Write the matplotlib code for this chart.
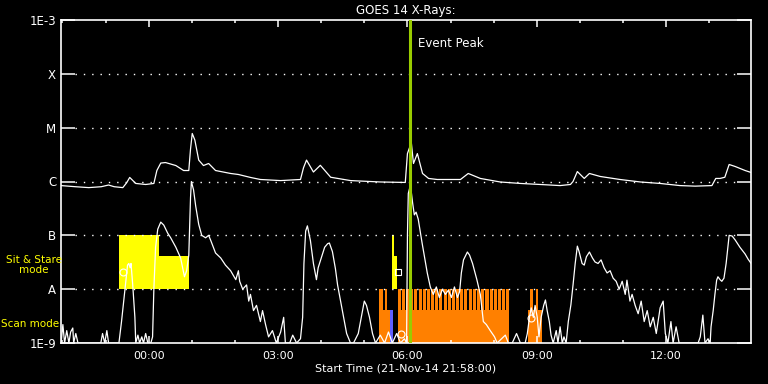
import matplotlib
matplotlib.use("Agg")
import matplotlib.pyplot as plt

# hours from 00:00 22-Nov-14, flux in W/m^2
long_pts = [(-2.03, 0.84e-6), (-1.7, 0.80e-6), (-1.39, 0.77e-6), (-1.1, 0.80e-6), (-0.93, 0.86e-6),
            (-0.8, 0.80e-6), (-0.60, 0.77e-6), (-0.51, 0.95e-6), (-0.44, 1.19e-6), (-0.30, 0.92e-6),
            (-0.07, 0.88e-6), (0.12, 0.92e-6), (0.19, 1.6e-6), (0.28, 2.2e-6), (0.39, 2.25e-6),
            (0.63, 1.98e-6), (0.81, 1.6e-6), (0.93, 1.6e-6), (0.97, 4.0e-6), (1.01, 7.8e-6),
            (1.07, 5.9e-6), (1.16, 2.5e-6), (1.27, 1.98e-6), (1.39, 2.16e-6), (1.55, 1.6e-6),
            (1.90, 1.41e-6), (2.08, 1.35e-6), (2.36, 1.19e-6), (2.59, 1.09e-6), (3.06, 1.04e-6),
            (3.52, 1.09e-6), (3.59, 1.8e-6), (3.66, 2.5e-6), (3.82, 1.5e-6), (3.98, 2.0e-6),
            (4.22, 1.2e-6), (4.68, 1.04e-6), (5.37, 0.98e-6), (5.95, 0.96e-6), (6.00, 3.3e-6),
            (6.09, 5.3e-6), (6.14, 2.16e-6), (6.23, 3.3e-6), (6.35, 1.41e-6), (6.49, 1.14e-6),
            (6.69, 1.09e-6), (7.23, 1.09e-6), (7.41, 1.41e-6), (7.69, 1.14e-6), (8.15, 0.98e-6),
            (8.62, 0.92e-6), (9.08, 0.88e-6), (9.54, 0.84e-6), (9.78, 0.88e-6), (9.84, 1.0e-6),
            (9.94, 1.53e-6), (10.10, 1.14e-6), (10.22, 1.41e-6), (10.47, 1.24e-6), (10.93, 1.09e-6),
            (11.40, 0.98e-6), (11.86, 0.92e-6), (12.32, 0.84e-6), (12.67, 0.82e-6), (13.06, 0.84e-6),
            (13.15, 1.14e-6), (13.25, 1.14e-6), (13.36, 1.2e-6), (13.46, 2.07e-6), (13.60, 1.9e-6),
            (13.83, 1.6e-6), (13.97, 1.47e-6)]

short_pts = [(-2.03, 1.0e-9), (-1.99, 2.2e-9), (-1.95, 1.0e-9), (-1.90, 1.7e-9), (-1.85, 1.0e-9),
             (-1.81, 1.6e-9), (-1.76, 1.9e-9), (-1.74, 1.0e-9), (-1.69, 1.5e-9), (-1.64, 1.0e-9),
             (-1.34, 1.0e-9), (-1.11, 1.0e-9), (-1.07, 1.5e-9), (-1.02, 1.0e-9), (-0.97, 1.7e-9),
             (-0.93, 1.0e-9), (-0.69, 1.0e-9), (-0.63, 2.5e-9), (-0.58, 6e-9), (-0.53, 1.5e-8),
             (-0.49, 2.8e-8), (-0.46, 3e-8), (-0.43, 2.5e-8), (-0.41, 3e-8), (-0.37, 1.2e-8),
             (-0.32, 3e-9), (-0.30, 1.0e-9), (-0.25, 1.4e-9), (-0.21, 1.0e-9), (-0.16, 1.3e-9),
             (-0.12, 1.0e-9), (-0.07, 1.5e-9), (-0.02, 1.0e-9), (0.05, 1.0e-9), (0.09, 1.3e-9),
             (0.12, 1e-8), (0.16, 6e-8), (0.21, 1.3e-7), (0.28, 1.76e-7), (0.35, 1.55e-7),
             (0.44, 1.1e-7), (0.51, 9e-8), (0.63, 6e-8), (0.74, 3.8e-8), (0.83, 1.7e-8),
             (0.88, 2.2e-8), (0.93, 4.3e-8), (0.95, 1.5e-7), (0.97, 5e-7), (0.99, 1.0e-6),
             (1.04, 7e-7), (1.09, 3.5e-7), (1.16, 1.6e-7), (1.23, 1.0e-7), (1.32, 9e-8),
             (1.39, 1.0e-7), (1.44, 8e-8), (1.55, 4.7e-8), (1.67, 3.8e-8), (1.78, 2.8e-8),
             (1.90, 2.2e-8), (2.02, 1.5e-8), (2.08, 2.2e-8), (2.11, 1.4e-8), (2.18, 1.0e-8),
             (2.27, 1.2e-8), (2.32, 6e-9), (2.36, 8e-9), (2.43, 4e-9), (2.50, 5e-9),
             (2.59, 2.5e-9), (2.64, 4e-9), (2.71, 2.2e-9), (2.78, 1.3e-9), (2.87, 1.7e-9),
             (2.96, 1.0e-9), (3.06, 1.6e-9), (3.13, 3e-9), (3.17, 1.0e-9), (3.27, 1.0e-9),
             (3.34, 1.4e-9), (3.43, 1.0e-9), (3.52, 1.2e-9), (3.57, 3e-9), (3.60, 3e-8),
             (3.64, 1.2e-7), (3.68, 1.5e-7), (3.75, 8e-8), (3.82, 3e-8), (3.89, 1.5e-8),
             (3.93, 2.5e-8), (4.01, 4e-8), (4.08, 6e-8), (4.15, 7e-8), (4.19, 7.2e-8),
             (4.26, 5e-8), (4.33, 2.4e-8), (4.38, 1.2e-8), (4.45, 6e-9), (4.52, 3e-9),
             (4.59, 1.5e-9), (4.68, 1.0e-9), (4.75, 1.0e-9), (4.86, 1.5e-9), (4.93, 3e-9),
             (5.00, 6e-9), (5.05, 5e-9), (5.12, 3e-9), (5.19, 1.5e-9), (5.26, 1.0e-9),
             (5.37, 1.4e-9), (5.47, 1.0e-9), (5.56, 1.6e-9), (5.65, 1.0e-9), (5.75, 1.5e-9),
             (5.84, 1.0e-9), (5.93, 1.2e-9), (5.98, 1.0e-9), (6.00, 1e-7), (6.02, 6e-7),
             (6.07, 8.6e-7), (6.12, 4e-7), (6.16, 2.4e-7), (6.20, 2.7e-7), (6.25, 2.0e-7),
             (6.34, 7.2e-8), (6.46, 2.0e-8), (6.53, 1.1e-8), (6.60, 8e-9), (6.67, 1.1e-8),
             (6.74, 7e-9), (6.81, 1.0e-8), (6.88, 8e-9), (6.95, 9.6e-9), (7.02, 7e-9),
             (7.09, 1.1e-8), (7.16, 7e-9), (7.21, 9e-9), (7.25, 2e-8), (7.30, 3.5e-8),
             (7.39, 4.9e-8), (7.44, 4.3e-8), (7.51, 3.0e-8), (7.61, 1.5e-8), (7.69, 8e-9),
             (7.76, 2.5e-9), (7.83, 2.2e-9), (7.92, 1.7e-9), (8.02, 1.3e-9), (8.08, 1.0e-9),
             (8.27, 1.4e-9), (8.34, 1.0e-9), (8.43, 1.0e-9), (8.53, 1.5e-9), (8.62, 1.0e-9),
             (8.73, 1.0e-9), (8.78, 1.5e-9), (8.83, 3e-9), (8.87, 4.5e-9), (8.92, 3e-9),
             (8.96, 5e-9), (9.01, 3e-9), (9.05, 1.3e-9), (9.10, 3e-9), (9.16, 5e-9),
             (9.20, 6.3e-9), (9.24, 4e-9), (9.29, 2.5e-9), (9.33, 1.4e-9), (9.38, 1.0e-9),
             (9.45, 1.7e-9), (9.49, 1.0e-9), (9.54, 2e-9), (9.59, 1.0e-9), (9.63, 1.3e-9),
             (9.68, 1.0e-9), (9.73, 2.5e-9), (9.79, 5.1e-9), (9.84, 1.2e-8), (9.89, 3e-8),
             (9.94, 6.3e-8), (9.98, 5e-8), (10.05, 3e-8), (10.10, 2.8e-8), (10.15, 4e-8),
             (10.22, 4.9e-8), (10.29, 3.8e-8), (10.35, 3.2e-8), (10.42, 3e-8), (10.49, 3.5e-8),
             (10.56, 2.5e-8), (10.63, 2.0e-8), (10.70, 2.2e-8), (10.77, 1.6e-8), (10.84, 1.4e-8),
             (10.91, 1.0e-8), (10.98, 1.4e-8), (11.05, 8e-9), (11.09, 1.47e-8), (11.16, 6e-9),
             (11.21, 8e-9), (11.28, 5e-9), (11.35, 3.5e-9), (11.42, 6e-9), (11.49, 2.5e-9),
             (11.56, 4e-9), (11.63, 2e-9), (11.70, 3e-9), (11.77, 1.5e-9), (11.86, 4.5e-9),
             (11.93, 6e-9), (11.98, 1.5e-9), (12.04, 1.0e-9), (12.11, 2.5e-9), (12.16, 1.0e-9),
             (12.23, 2e-9), (12.30, 1.0e-9), (12.37, 1.0e-9), (12.55, 1.0e-9), (12.74, 1.0e-9),
             (12.79, 1.3e-9), (12.85, 3.3e-9), (12.90, 1.0e-9), (12.97, 1.2e-9), (13.02, 1.0e-9),
             (13.04, 2e-9), (13.09, 4e-9), (13.13, 8e-9), (13.17, 1.47e-8), (13.20, 1.7e-8),
             (13.25, 1.5e-8), (13.29, 1.4e-8), (13.34, 1.6e-8), (13.39, 3e-8), (13.43, 6e-8),
             (13.46, 1.0e-7), (13.53, 9.7e-8), (13.60, 8.2e-8), (13.71, 6e-8), (13.83, 4.5e-8),
             (13.90, 3.6e-8), (13.97, 3.0e-8)]

# instrument mode bands: (start_h, end_h)
sit_full = [(-0.69, 0.23), (5.645, 5.70)]
sit_part = [(0.23, 0.93), (5.70, 5.75)]
scan_part = [(5.33, 5.61), (5.77, 8.35), (8.79, 9.12)]
scan_full = [(5.33, 5.44), (5.47, 5.53),
             (5.77, 5.84), (5.87, 5.94), (5.96, 6.03), (6.06, 6.13), (6.16, 6.23), (6.26, 6.33),
             (6.35, 6.42), (6.45, 6.52), (6.55, 6.62), (6.64, 6.71), (6.74, 6.81), (6.84, 6.91),
             (6.94, 7.01), (7.03, 7.10), (7.13, 7.20), (7.23, 7.30), (7.32, 7.39), (7.42, 7.49),
             (7.52, 7.59), (7.61, 7.68), (7.71, 7.78), (7.81, 7.88), (7.91, 7.98), (8.00, 8.07),
             (8.10, 8.17), (8.20, 8.27), (8.29, 8.35),
             (8.85, 8.91), (8.97, 9.03)]
blue_bar = [(5.606, 5.67)]
glyphs = [(-0.59, 2.1e-8, 'o'), (5.78, 2.08e-8, 's'), (5.84, 1.5e-9, 'o'), (8.87, 2.9e-9, 'o')]

peak_time = 6.05
level_vals = [1e-9, 1e-8, 1e-7, 1e-6, 1e-5, 1e-4, 1e-3]
level_labels = ['1E-9', 'A', 'B', 'C', 'M', 'X', '1E-3']
hour_ticks = [0, 3, 6, 9, 12]
hour_labels = ['00:00', '03:00', '06:00', '09:00', '12:00']
t_start, t_end = -2.0333, 13.9667

plt.rcParams['font.family'] = 'DejaVu Sans'
plt.rcParams['font.size'] = 8

fig = plt.figure(figsize=(7.68, 3.84), dpi=100, facecolor='black')
ax = fig.add_axes([61 / 768, 41 / 384, 690 / 768, 323 / 384], facecolor='black')


def bands(spans, lo, hi, color):
    for a, b in spans:
        ax.bar(a, hi - lo, bottom=lo, width=b - a, align='edge', color=color, linewidth=0, zorder=1)


bands(sit_full, 1e-8, 1e-7, '#ffff00')
bands(sit_part, 1e-8, 4.1e-8, '#ffff00')
bands(scan_part, 1e-9, 4.1e-9, '#ff8000')
bands(scan_full, 1e-9, 1e-8, '#ff8000')
bands(blue_bar, 1e-9, 4.1e-9, '#6060ff')

lt, lf = zip(*long_pts)
st, sf = zip(*short_pts)
ax.plot(lt, lf, color='white', lw=0.9, zorder=3)
ax.plot(st, sf, color='white', lw=0.9, zorder=3)

for gx, gy, m in glyphs:
    ax.plot([gx], [gy], marker=m, ms=5, mfc='none', mec='white', mew=0.8, zorder=4)

# dotted class levels
for lv in level_vals[1:-1]:
    ax.axhline(lv, xmin=14 / 690, xmax=1 - 14 / 690, color='white', lw=1.0,
               linestyle=(0, (1, 5)), zorder=2)

ax.axvline(peak_time, color='#99cc00', lw=2.2, zorder=5)
ax.text(peak_time + 0.2, 3.6e-4, 'Event Peak', color='white', fontsize=8.5, va='center')

ax.set_yscale('log')
ax.set_ylim(1e-9, 1e-3)
ax.set_xlim(t_start, t_end)
ax.set_yticks(level_vals)
ax.set_yticklabels(level_labels)
ax.yaxis.set_minor_locator(matplotlib.ticker.NullLocator())
ax.set_xticks(hour_ticks)
ax.set_xticklabels(hour_labels)
ax.set_xticks(range(-2, 14), minor=True)

ax.tick_params(axis='y', which='major', direction='in', length=10, width=1.1, colors='white',
               left=True, right=True, labelsize=8.5, pad=3.5)
ax.tick_params(axis='x', which='major', direction='in', length=5, width=1.1, colors='white',
               top=True, bottom=True, labelsize=8, pad=5.5)
ax.tick_params(axis='x', which='minor', direction='in', length=2.5, width=1.1, colors='white',
               top=True, bottom=True)
for sp in ax.spines.values():
    sp.set_color('white')
    sp.set_linewidth(1.2)

ax.set_title('GOES 14 X-Rays:', color='white', fontsize=8.5, pad=4)
ax.set_xlabel('Start Time (21-Nov-14 21:58:00)', color='white', fontsize=8, labelpad=2)

fig.text(34 / 768, 1 - 265 / 384, 'Sit & Stare\nmode', color='#ffff00', fontsize=7.5,
         ha='center', va='center', linespacing=1.1)
fig.text(30 / 768, 1 - 324 / 384, 'Scan mode', color='#ffff00', fontsize=7.5,
         ha='center', va='center')

fig.savefig('out.png', dpi=100, facecolor='black')
